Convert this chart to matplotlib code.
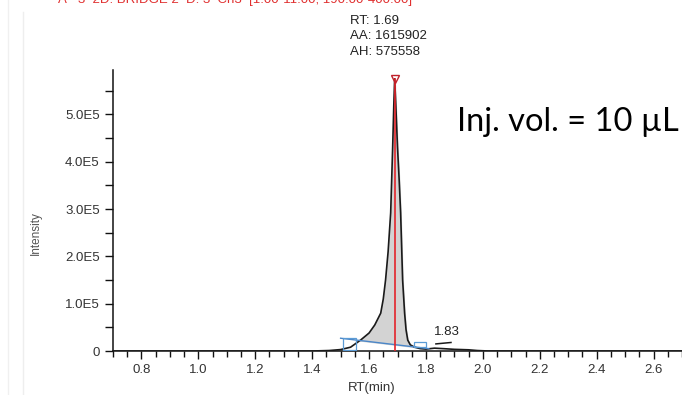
import numpy as np
import matplotlib.pyplot as plt
import matplotlib.ticker as mticker
from matplotlib.patches import Rectangle
from matplotlib.lines import Line2D

plt.rcParams['font.family'] = ['Liberation Sans', 'DejaVu Sans']

# chromatogram trace (RT in min, intensity in counts)
rt = [0.70, 1.40, 1.46, 1.50, 1.535, 1.57, 1.60, 1.62, 1.641, 1.65, 1.658, 1.667,
      1.676, 1.683, 1.687, 1.69, 1.694, 1.700, 1.706, 1.711, 1.718, 1.725, 1.730,
      1.736, 1.745, 1.76, 1.78, 1.80, 1.83, 1.86, 1.90, 1.95, 1.98, 2.02, 2.70]
intensity = [0, 0, 1000, 3000, 8000, 23000, 38000, 55000, 80000, 110000, 150000, 210000,
             292000, 431000, 520000, 575558, 520000, 431000, 360000, 292000, 150000, 80000, 45000,
             23000, 13000, 8000, 5000, 4000, 6000, 5000, 3500, 2500, 1000, 0, 0]

# integration baseline of the main peak
base_rt = [1.50, 1.81]
base_int = [27000, 5000]

# peak start / end markers (rt0, rt1, i0, i1)
start_box = [1.51, 1.553, 2000, 27000]
end_box = [1.757, 1.80, 8000, 19000]

# main peak results
peak_rt = 1.69
peak_area = 1615902
peak_height = 575558

# minor peak
minor_rt = 1.83
minor_base_rt = [1.835, 1.888]
minor_base_int = [15000, 18000]

fig = plt.figure(figsize=(6.82, 3.95), dpi=100)
ax = fig.add_axes([113 / 682, 44 / 395, 569 / 682, 281 / 395])

txt_color = '#333333'

# grey area between trace and baseline
rt_arr = np.array(rt)
int_arr = np.array(intensity, dtype=float)
mask = (rt_arr >= base_rt[0]) & (rt_arr <= base_rt[1])
bl = np.interp(rt_arr[mask], base_rt, base_int)
ax.fill_between(rt_arr[mask], bl, int_arr[mask], where=int_arr[mask] >= bl,
                color='#d3d3d3', interpolate=True, zorder=1)

ax.plot(rt, intensity, color='#1a1a1a', lw=1.2, zorder=3)
ax.plot(base_rt, base_int, color='#4a86c8', lw=1.0, zorder=4)

for b in (start_box, end_box):
    ax.add_patch(Rectangle((b[0], b[2]), b[1] - b[0], b[3] - b[2], fill=False,
                           edgecolor='#5b9bd5', lw=0.9, zorder=4))

# apex marker and retention line
ax.plot([peak_rt, peak_rt], [0, peak_height], color='#e3242b', lw=1.2, zorder=5)
ax.plot([peak_rt], [peak_height], marker='v', ms=6, mfc='none', mec='#c0202a',
        mew=1.0, clip_on=False, zorder=6)
ax.annotate(f"RT: {peak_rt:.2f}\nAA: {peak_area}\nAH: {peak_height}",
            xy=(peak_rt, peak_height), xytext=(-45, 21), textcoords='offset pixels',
            ha='left', va='bottom', fontsize=9.5, color='#222222', linespacing=1.4,
            annotation_clip=False)

ax.plot(minor_base_rt, minor_base_int, color='#1a1a1a', lw=1.1, zorder=4)
ax.annotate(f"{minor_rt:.2f}", xy=(minor_rt, 15000), xytext=(12, 6),
            textcoords='offset pixels', ha='center', va='bottom', fontsize=9.5,
            color='#222222')

ax.set_xlim(0.7, 2.7)
ax.set_ylim(0, 594000)

ax.xaxis.set_major_locator(mticker.MultipleLocator(0.2))
ax.xaxis.set_minor_locator(mticker.MultipleLocator(0.05))
ax.xaxis.set_major_formatter(mticker.FormatStrFormatter('%.1f'))
ax.yaxis.set_major_locator(mticker.MultipleLocator(100000))
ax.yaxis.set_minor_locator(mticker.MultipleLocator(50000))
ax.yaxis.set_major_formatter(mticker.FuncFormatter(
    lambda v, p: '0' if v == 0 else f"{v / 1e5:.1f}E5"))

ax.tick_params(axis='both', which='major', direction='out', length=6, width=1,
               labelsize=9.5, labelcolor=txt_color, color='#111111')
ax.tick_params(axis='x', which='minor', direction='out', length=4, width=1, color='#111111')
ax.tick_params(axis='y', which='minor', direction='out', length=6, width=1, color='#111111')

for s in ('top', 'right'):
    ax.spines[s].set_visible(False)
for s in ('left', 'bottom'):
    ax.spines[s].set_color('#111111')
    ax.spines[s].set_linewidth(1.1)

ax.set_xlabel('RT(min)', fontsize=9.5, color=txt_color)
ax.xaxis.set_label_coords(0.455, -0.112)
ax.set_ylabel('Intensity', fontsize=8.5, color='#555555')
ax.yaxis.set_label_coords(-0.125, 0.42)

ax.text(0.995, 0.815, 'Inj. vol. = 10 µL', transform=ax.transAxes, ha='right',
        va='center', fontsize=23.5, family=['Lato', 'DejaVu Sans'], color='black')

# chromatogram header, cut at the top edge
fig.text(0.085, 1.0, 'A - 3  2D: BRIDGE 2  D: 3  Ch3  [1.00-11.00, 190.00-400.00]',
         ha='left', va='center', fontsize=9.5, color='#e03030')

# window frame lines
fig.add_artist(Line2D([8 / 682, 8 / 682], [0, 1], color='#f0f0f0', lw=1))
fig.add_artist(Line2D([23 / 682, 23 / 682], [0, 0.97], color='#eeeeee', lw=1))

fig.savefig('out.png', dpi=100)
